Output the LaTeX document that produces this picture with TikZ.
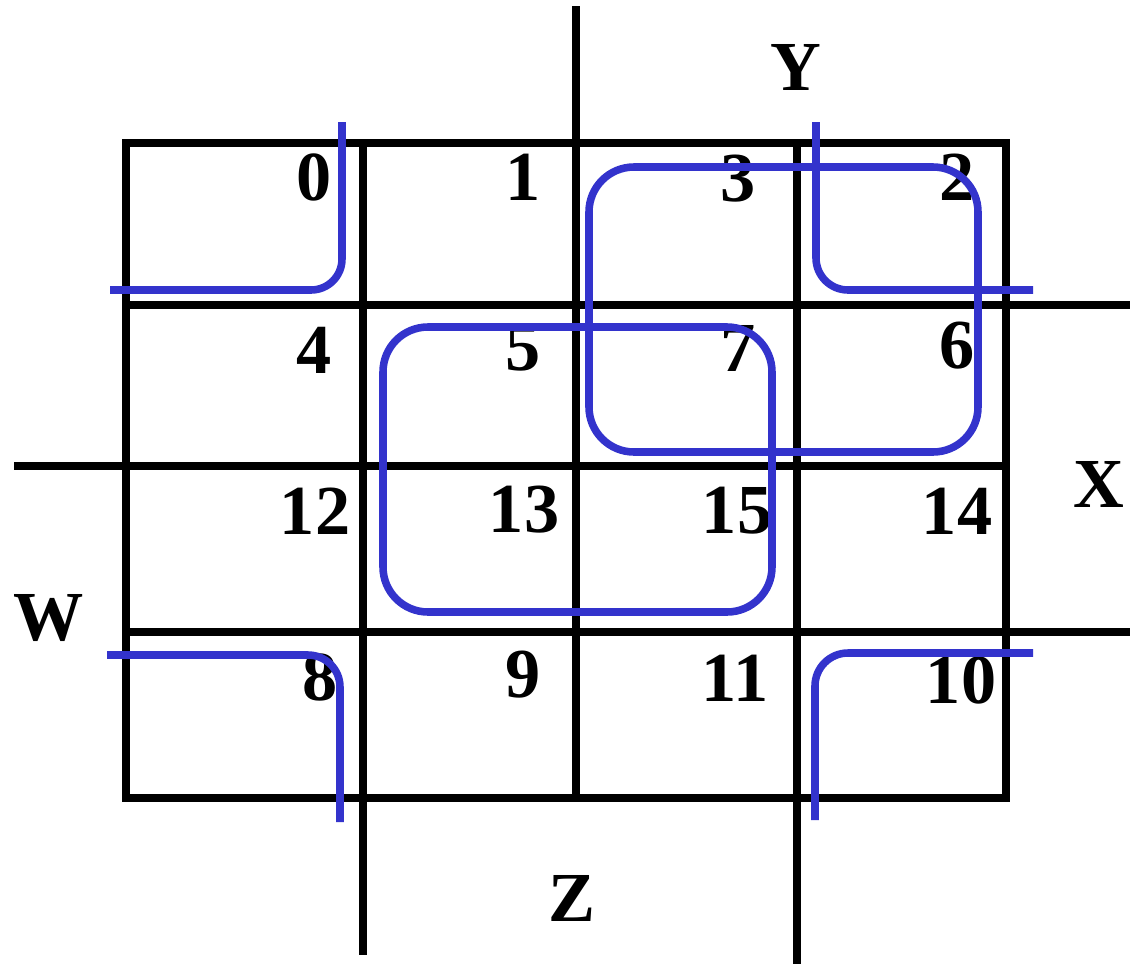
\documentclass[tikz,border=0pt]{standalone}
\usepackage{fontspec}
\setmainfont{Liberation Serif}
\usepackage{tikz}
\usepackage{xcolor}
\usetikzlibrary{positioning}
\definecolor{KMap_Blue}{HTML}{3333CC}

\begin{document}
\begin{tikzpicture}[x=0.02cm, y=-0.02cm, line width=4.1pt,
    cellnum/.style={font=\fontsize{40}{42}\selectfont\bfseries, inner sep=0pt},
    varname/.style={font=\fontsize{40}{42}\selectfont\bfseries, inner sep=0pt},
    loop/.style={KMap_Blue, line width=4.3pt}]
    \useasboundingbox (0,0) rectangle (1130,964);
    % Outer frame and the cell dividers
    \draw (126,143) rectangle (1006,798);
    \draw (363,143) -- (363,955);
    \draw (576,6) -- (576,798);
    \draw (797,143) -- (797,964);
    \draw (126,305) -- (1130,305);
    \draw (14,466) -- (1006,466);
    \draw (126,632) -- (1130,632);
    % Variable names
    \node[varname] (lblY) at (796,67) {Y};
    \node[varname] (lblX) at (1099,484) {X};
    \node[varname] (lblW) at (49,618) {W};
    \node[varname] (lblZ) at (572,898) {Z};
    % Row 00
    \node[cellnum] (m0) at (314,177) {0};
    \node[cellnum] (m1) at (523,177) {1};
    \node[cellnum] (m3) at (738,179) {3};
    \node[cellnum] (m2) at (957,177) {2};
    % Row 01
    \node[cellnum] (m4) at (314,350) {4};
    \node[cellnum] (m5) at (523,348) {5};
    \node[cellnum] (m7) at (738,348) {7};
    \node[cellnum] (m6) at (957,346) {6};
    % Row 11
    \node[cellnum] (m12) at (315,511) {12};
    \node[cellnum] (m13) at (524,510) {13};
    \node[cellnum] (m15) at (737,511) {15};
    \node[cellnum] (m14) at (957,511) {14};
    % Row 10
    \node[cellnum] (m8) at (320,677) {8};
    \node[cellnum] (m9) at (523,675) {9};
    \node[cellnum] (m11) at (735,678) {11};
    \node[cellnum] (m10) at (961,680) {10};
    % Groups: the four corners wrap round
    \draw[loop, rounded corners=0.62cm] (110,290) -- (342,290) -- (342,122);
    \draw[loop, rounded corners=0.64cm] (816,122) -- (816,290) -- (1033,290);
    \draw[loop, rounded corners=0.64cm] (107,655) -- (340,655) -- (340,822);
    \draw[loop, rounded corners=0.66cm] (815,820) -- (815,653) -- (1033,653);
    % Groups: 3,2,7,6 and 5,7,13,15
    \draw[loop, rounded corners=0.9cm] (589,167) rectangle (978,452);
    \draw[loop, rounded corners=0.9cm] (383,327) rectangle (772,612);
\end{tikzpicture}
\end{document}
